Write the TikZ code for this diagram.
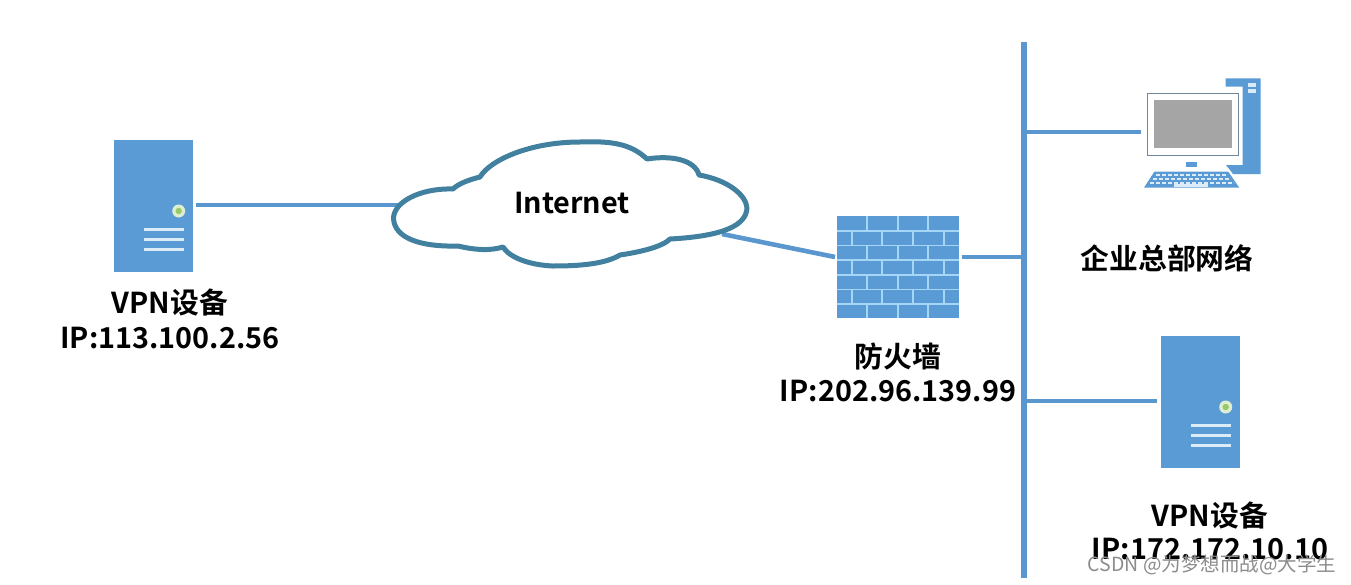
\documentclass[tikz,border=0pt]{standalone}
\usepackage{fontspec}
\setmainfont{Noto Sans CJK SC}[BoldFont={Noto Sans CJK SC Bold}]
\newfontfamily\wmfont{Noto Sans CJK SC}
\definecolor{devblue}{HTML}{5B9BD5}
\definecolor{linkblue}{HTML}{5A97CF}
\definecolor{cloudline}{HTML}{41809F}
\definecolor{brickline}{HTML}{A6D6F5}
\definecolor{paleline}{HTML}{DCEBF8}
\definecolor{screen}{HTML}{A5A5A5}
\definecolor{ledgreen}{HTML}{9CC768}
\definecolor{ledpale}{HTML}{DDEFD0}
\tikzset{
  x=1pt,y=-1pt,
  link/.style={draw=linkblue,line width=4.6pt},
  buslink/.style={draw=linkblue,line width=5.6pt},
  serverbox/.style={fill=devblue,draw=none,minimum width=79pt,minimum height=132pt,inner sep=0pt},
  lbl/.style={font=\bfseries\fontsize{28.8}{32}\selectfont,text=black,align=center,inner sep=0pt},
  brickgap/.style={draw=brickline,line width=1.6pt},
  pcblue/.style={fill=devblue,draw=none},
  serverdetail/.pic={
    \fill[ledpale] (25.2,5) circle[radius=6.5pt];
    \fill[ledgreen] (25.2,5) circle[radius=3.2pt];
    \foreach \yy in {23,33.5,43.5}
      \draw[paleline,line width=3pt] (-9.5,\yy) -- (30.5,\yy);
  }
}
\begin{document}
\begin{tikzpicture}
\useasboundingbox (0,0) rectangle (1351,584);
\fill[white] (0,0) rectangle (1351,584);

% bus and free ends
\coordinate (busTop) at (1024,42);
\coordinate (busBot) at (1024,578);
\coordinate (busPC) at (1024,132);
\coordinate (busFW) at (1024,257);
\coordinate (busSrv) at (1024,401);
\coordinate (cloudW) at (410,205);
\coordinate (cloudE) at (722,234);
\coordinate (pcPort) at (1141,132);
\coordinate (fwIn) at (835,257);
\coordinate (fwOut) at (962,257);
\coordinate (srvAOut) at (196,205);
\coordinate (srvBIn) at (1157,401);

% devices
\node[serverbox] (srvA) at (153.5,206) {};
\node[serverbox] (srvB) at (1200.5,402) {};
\node[fill=devblue,draw=none,minimum width=122pt,minimum height=102pt,inner sep=0pt] (fw) at (898,267) {};

% connectors
\draw[link] (srvAOut) -- (cloudW);
\draw[link] (cloudE) -- (fwIn);
\draw[link] (fwOut) -- (busFW);
\draw[link] (busPC) -- (pcPort);
\draw[link] (busSrv) -- (srvBIn);
\draw[buslink] (busTop) -- (busBot);

% server details
\pic at (srvA.center) {serverdetail};
\pic at (srvB.center) {serverdetail};

% firewall bricks
\foreach \yy in {230.7,245.4,260,274.7,289.4,304} \draw[brickgap] (837,\yy) -- (959,\yy);
\foreach \ya/\yb in {216/230.7,245.4/260,274.7/289.4,304/318}
  \foreach \xx in {867,898,928} \draw[brickgap] (\xx,\ya) -- (\xx,\yb);
\foreach \ya/\yb in {230.7/245.4,260/274.7,289.4/304}
  \foreach \xx in {852,882,913,944} \draw[brickgap] (\xx,\ya) -- (\xx,\yb);

% cloud
\draw[cloudline,line width=5pt,fill=white,line join=round]
  (393.5,218) .. controls (394,202) and (420,188) .. (453,189)
  .. controls (458,184) and (468,180) .. (480,177)
  .. controls (490,160) and (530,142) .. (580,142)
  .. controls (610,141) and (630,143) .. (647,159)
  .. controls (672,155) and (695,160) .. (699,175)
  .. controls (728,180) and (746,195) .. (747,208)
  .. controls (746,225) and (725,236) .. (670,239)
  .. controls (662,247) and (640,252) .. (620,255)
  .. controls (605,264) and (580,266) .. (553,266)
  .. controls (530,265) and (510,258) .. (503,247)
  .. controls (490,251) and (475,250) .. (458,246)
  .. controls (420,247) and (394,238) .. (393.5,218) -- cycle;
\node[lbl] (cloudText) at (572,203) {Internet};

% PC
\fill[pcblue] (1225.7,78.3) -- (1260.7,78.3) -- (1260.7,174) -- (1233,174) -- (1226,165) -- (1242.7,165) -- (1242.7,86.7) -- (1225.7,86.7) -- cycle;
\fill[paleline] (1248.3,83.3) rectangle (1256,86.7);
\fill[paleline] (1248.3,89.3) rectangle (1256,92.7);
\node[draw=devblue!55!black!70,line width=1pt,fill=white,minimum width=91pt,minimum height=62pt,inner sep=0pt] (monitor) at (1192.5,124) {};
\node[fill=screen,draw=none,minimum width=78pt,minimum height=48pt,inner sep=0pt] (scr) at (1192.5,124) {};
\fill[pcblue] (1185.7,161.7) rectangle (1196.7,166.7);
\fill[pcblue] (1154.3,171.7) -- (1228.3,171.7) -- (1239.3,187.7) -- (1144,187.7) -- cycle;
\foreach \yy/\xa/\xb in {175/1156/1226,179/1153/1230,183/1150/1234}
  \draw[paleline,line width=1.6pt,dash pattern=on 4pt off 2pt] (\xa,\yy) -- (\xb,\yy);
\fill[paleline] (1174,184) rectangle (1208,186.7);

% labels
\node[lbl] (lblA1) at (170,303) {VPN设备};
\node[lbl] (lblA2) at (170,338) {IP:113.100.2.56};
\node[lbl] (lblF1) at (898,356) {防火墙};
\node[lbl] (lblF2) at (898,391) {IP:202.96.139.99};
\node[lbl] (lblC) at (1167,258) {企业总部网络};
\node[lbl] (lblB1) at (1210,516) {VPN设备};
\node[lbl] (lblB2) at (1210,549) {IP:172.172.10.10};
\node[font=\wmfont\fontsize{19.5}{22}\selectfont,text=black!45,inner sep=0pt] (wm) at (1212,565) {CSDN @为梦想而战@大学生};
\end{tikzpicture}
\end{document}
